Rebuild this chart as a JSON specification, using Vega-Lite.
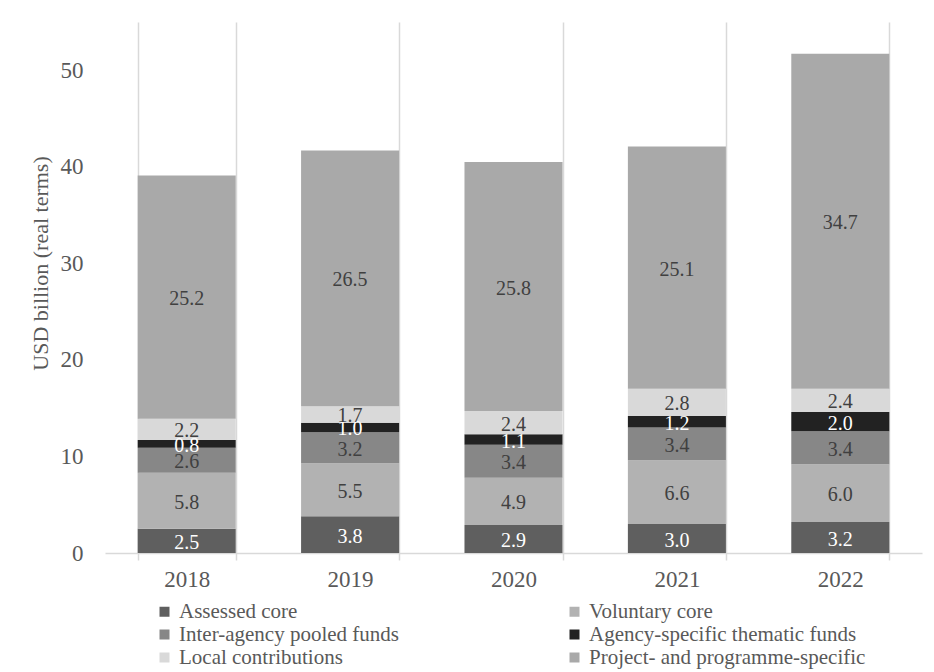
{
  "$schema": "https://vega.github.io/schema/vega-lite/v6.json",
  "width": 817,
  "height": 531,
  "autosize": {"type": "none"},
  "padding": {"left": 105, "top": 22, "right": 12, "bottom": 119},
  "config": {
    "font": "Liberation Serif",
    "view": {"stroke": null},
    "axis": {"labelFont": "Liberation Serif", "titleFont": "Liberation Serif"},
    "legend": {"labelFont": "Liberation Serif"},
    "text": {"font": "Liberation Serif"}
  },
  "data": {
    "values": [
      {"year": "2018", "type": "Assessed core", "idx": 0, "value": 2.5},
      {"year": "2018", "type": "Voluntary core", "idx": 1, "value": 5.8},
      {"year": "2018", "type": "Inter-agency pooled funds", "idx": 2, "value": 2.6},
      {"year": "2018", "type": "Agency-specific thematic funds", "idx": 3, "value": 0.8},
      {"year": "2018", "type": "Local contributions", "idx": 4, "value": 2.2},
      {"year": "2018", "type": "Project- and programme-specific", "idx": 5, "value": 25.2},
      {"year": "2019", "type": "Assessed core", "idx": 0, "value": 3.8},
      {"year": "2019", "type": "Voluntary core", "idx": 1, "value": 5.5},
      {"year": "2019", "type": "Inter-agency pooled funds", "idx": 2, "value": 3.2},
      {"year": "2019", "type": "Agency-specific thematic funds", "idx": 3, "value": 1.0},
      {"year": "2019", "type": "Local contributions", "idx": 4, "value": 1.7},
      {"year": "2019", "type": "Project- and programme-specific", "idx": 5, "value": 26.5},
      {"year": "2020", "type": "Assessed core", "idx": 0, "value": 2.9},
      {"year": "2020", "type": "Voluntary core", "idx": 1, "value": 4.9},
      {"year": "2020", "type": "Inter-agency pooled funds", "idx": 2, "value": 3.4},
      {"year": "2020", "type": "Agency-specific thematic funds", "idx": 3, "value": 1.1},
      {"year": "2020", "type": "Local contributions", "idx": 4, "value": 2.4},
      {"year": "2020", "type": "Project- and programme-specific", "idx": 5, "value": 25.8},
      {"year": "2021", "type": "Assessed core", "idx": 0, "value": 3.0},
      {"year": "2021", "type": "Voluntary core", "idx": 1, "value": 6.6},
      {"year": "2021", "type": "Inter-agency pooled funds", "idx": 2, "value": 3.4},
      {"year": "2021", "type": "Agency-specific thematic funds", "idx": 3, "value": 1.2},
      {"year": "2021", "type": "Local contributions", "idx": 4, "value": 2.8},
      {"year": "2021", "type": "Project- and programme-specific", "idx": 5, "value": 25.1},
      {"year": "2022", "type": "Assessed core", "idx": 0, "value": 3.2},
      {"year": "2022", "type": "Voluntary core", "idx": 1, "value": 6.0},
      {"year": "2022", "type": "Inter-agency pooled funds", "idx": 2, "value": 3.4},
      {"year": "2022", "type": "Agency-specific thematic funds", "idx": 3, "value": 2.0},
      {"year": "2022", "type": "Local contributions", "idx": 4, "value": 2.4},
      {"year": "2022", "type": "Project- and programme-specific", "idx": 5, "value": 34.7}
    ]
  },
  "transform": [
    {
      "stack": "value",
      "groupby": ["year"],
      "sort": [{"field": "idx", "order": "ascending"}],
      "as": ["v0", "v1"]
    },
    {"calculate": "(datum.v0 + datum.v1) / 2", "as": "labelY"}
  ],
  "encoding": {
    "x": {
      "field": "year",
      "type": "nominal",
      "scale": {"paddingInner": 0.4, "paddingOuter": 0.2},
      "axis": {
        "title": null,
        "labelAngle": 0,
        "labelFont": "Liberation Serif",
        "labelFontSize": 23,
        "labelColor": "#595959",
        "labelPadding": 8,
        "domainColor": "#d9d9d9",
        "domainWidth": 1.5,
        "tickColor": "#d9d9d9",
        "tickWidth": 1.5,
        "tickSize": 7,
        "tickBand": "extent",
        "grid": true,
        "gridColor": "#d9d9d9",
        "gridWidth": 1.5
      }
    }
  },
  "layer": [
    {
      "mark": {"type": "bar"},
      "encoding": {
        "y": {
          "field": "v0",
          "type": "quantitative",
          "scale": {"domain": [0, 55], "nice": false},
          "axis": {
            "title": "USD billion  (real terms)",
            "titleFont": "Liberation Serif",
            "titleFontSize": 22,
            "titleFontWeight": "normal",
            "titleColor": "#595959",
            "titlePadding": 8,
            "titleY": 241,
            "values": [0, 10, 20, 30, 40, 50],
            "labelFont": "Liberation Serif",
            "labelFontSize": 23,
            "labelColor": "#595959",
            "labelPadding": 22,
            "domain": false,
            "ticks": false,
            "grid": false
          }
        },
        "y2": {"field": "v1"},
        "color": {
          "field": "type",
          "type": "nominal",
          "sort": ["Assessed core", "Voluntary core", "Inter-agency pooled funds", "Agency-specific thematic funds", "Local contributions", "Project- and programme-specific"],
          "scale": {
            "domain": ["Assessed core", "Voluntary core", "Inter-agency pooled funds", "Agency-specific thematic funds", "Local contributions", "Project- and programme-specific"],
            "range": ["#5f5f5f", "#b2b2b2", "#878787", "#222222", "#d9d9d9", "#a9a9a9"]
          },
          "legend": {
            "title": null,
            "orient": "none",
            "direction": "horizontal",
            "legendX": 49,
            "legendY": 579,
            "columns": 2,
            "columnPadding": 165,
            "rowPadding": 1,
            "symbolType": "square",
            "symbolSize": 100,
            "symbolStrokeWidth": 0,
            "labelFont": "Liberation Serif",
            "labelFontSize": 21,
            "labelColor": "#595959",
            "labelOffset": 4,
            "labelLimit": 400
          }
        }
      }
    },
    {
      "mark": {"type": "text", "font": "Liberation Serif", "fontSize": 20, "baseline": "middle", "dy": 2},
      "encoding": {
        "y": {"field": "labelY", "type": "quantitative"},
        "text": {"field": "value", "type": "quantitative", "format": ".1f"},
        "color": {
          "condition": {"test": "datum.idx === 0 || datum.idx === 3", "value": "#ffffff"},
          "value": "#404040"
        }
      }
    }
  ]
}
